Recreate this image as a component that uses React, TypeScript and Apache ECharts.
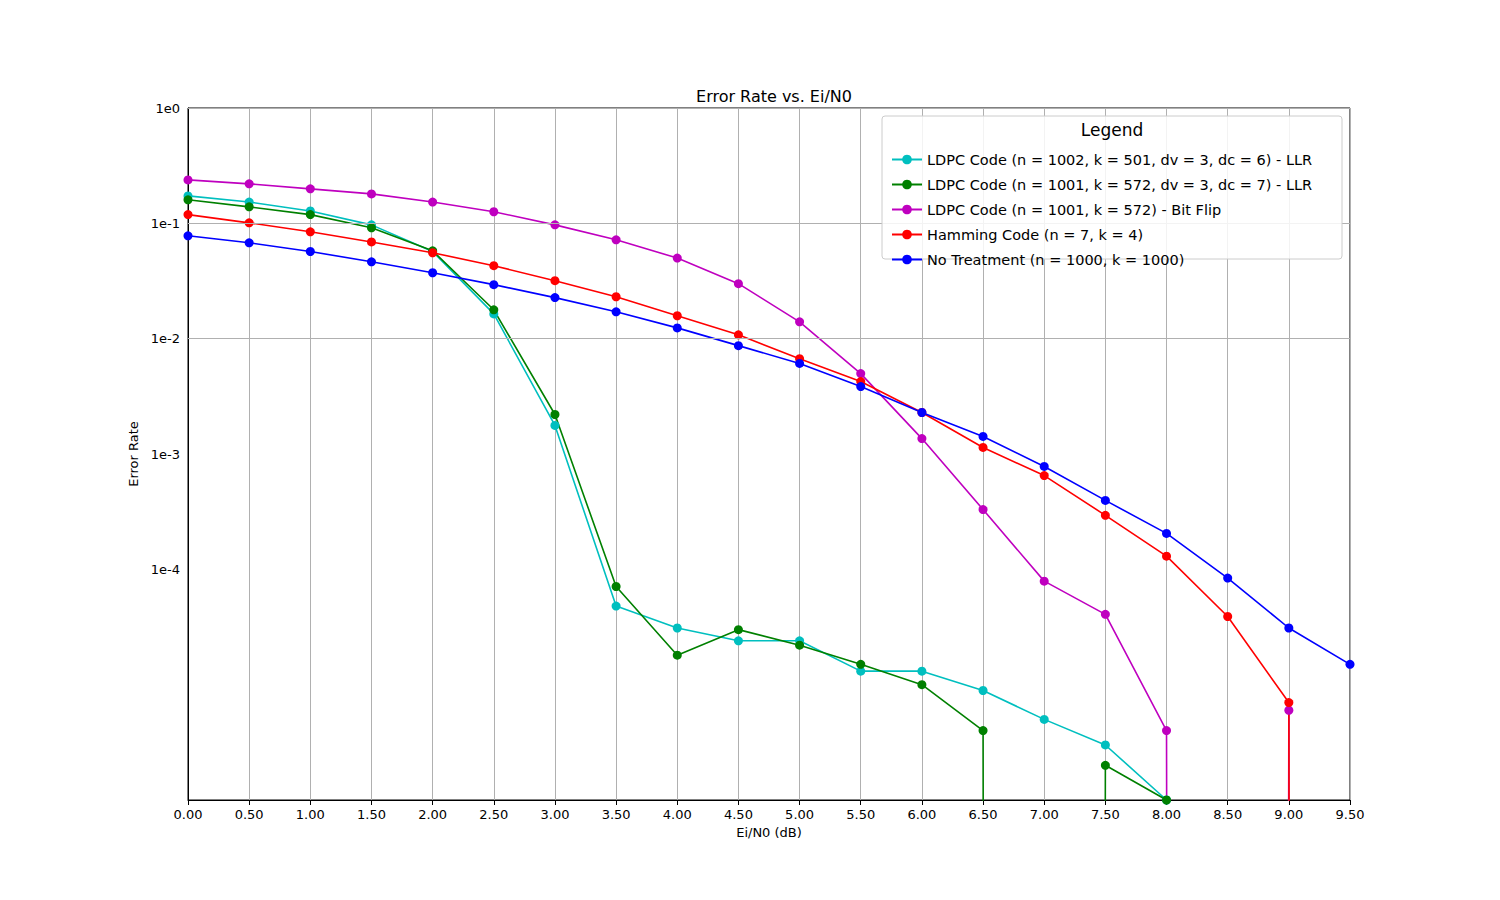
import { useEffect, useRef } from "react";
import * as echarts from "echarts";

const ebn0 = [0, 0.5, 1, 1.5, 2, 2.5, 3, 3.5, 4, 4.5, 5, 5.5, 6, 6.5, 7, 7.5, 8, 8.5, 9, 9.5];

// 0 = zero errors (drawn as a drop to the bottom like matplotlib)
const ldpcLlr1002 = [0.173, 0.153, 0.128, 0.097, 0.057, 0.0164, 0.00177, 4.8e-5, 3.1e-5, 2.4e-5, 2.4e-5, 1.31e-5, 1.31e-5, 8.9e-6, 5.0e-6, 3.0e-6, 1e-6];
const ldpcLlr1001 = [0.16, 0.139, 0.119, 0.0915, 0.0578, 0.0178, 0.0022, 7.1e-5, 1.8e-5, 3.0e-5, 2.2e-5, 1.5e-5, 1.0e-5, 4.0e-6, 0, 2.0e-6, 1e-6];
const ldpcBitFlip = [0.238, 0.22, 0.199, 0.18, 0.153, 0.126, 0.097, 0.072, 0.05, 0.03, 0.014, 0.00498, 0.00136, 3.3e-4, 7.9e-5, 4.07e-5, 4.0e-6, 0, 6.0e-6];
const hamming = [0.119, 0.101, 0.0844, 0.069, 0.0556, 0.0429, 0.0318, 0.0231, 0.0158, 0.0108, 0.0067, 0.00425, 0.00229, 0.00114, 6.5e-4, 2.94e-4, 1.3e-4, 3.9e-5, 7.0e-6, 0];
const noTreatment = [0.078, 0.0678, 0.057, 0.0464, 0.0373, 0.0294, 0.0227, 0.0171, 0.0124, 0.0087, 0.0061, 0.00384, 0.00229, 0.00142, 7.8e-4, 3.96e-4, 2.05e-4, 8.4e-5, 3.1e-5, 1.5e-5];

const seriesDefs = [
  { name: "LDPC Code (n = 1002, k = 501, dv = 3, dc = 6) - LLR", color: "#00bfbf", values: ldpcLlr1002 },
  { name: "LDPC Code (n = 1001, k = 572, dv = 3, dc = 7) - LLR", color: "#008000", values: ldpcLlr1001 },
  { name: "LDPC Code (n = 1001, k = 572) - Bit Flip", color: "#bf00bf", values: ldpcBitFlip },
  { name: "Hamming Code (n = 7, k = 4)", color: "#ff0000", values: hamming },
  { name: "No Treatment (n = 1000, k = 1000)", color: "#0000ff", values: noTreatment }
];

const gridDecades = [1, 0.1, 0.01, 0.001, 0.0001];

export default function App() {
  const chartRef = useRef<HTMLDivElement>(null);

  useEffect(() => {
    if (!chartRef.current) return;
    const chart = echarts.init(chartRef.current, null, { renderer: "svg" });
    const font = "DejaVu Sans";

    const series: any[] = seriesDefs.map((s, si) => ({
      name: s.name,
      type: "line",
      symbol: "circle",
      symbolSize: 9,
      color: s.color,
      lineStyle: { width: 1.6, color: s.color },
      clip: true,
      data: s.values.map((v, i) =>
        v === 0 ? { value: [ebn0[i], 1e-300], symbolSize: 0 } : { value: [ebn0[i], v] }
      ),
      markLine:
        si === 0
          ? {
              silent: true,
              symbol: "none",
              label: { show: false },
              lineStyle: { color: "#b0b0b0", type: "solid", width: 1 },
              data: gridDecades.map(d => ({ yAxis: d }))
            }
          : undefined,
      z: 3
    }));

    chart.setOption({
      animation: false,
      textStyle: { fontFamily: font },
      title: {
        text: "Error Rate vs. Ei/N0",
        left: 769,
        top: 83,
        textAlign: "center",
        textStyle: { fontSize: 16, fontWeight: "normal", color: "#000", fontFamily: font }
      },
      grid: { left: 188, right: 150, top: 108, bottom: 100 },
      xAxis: {
        type: "value",
        min: 0,
        max: 9.5,
        interval: 0.5,
        name: "Ei/N0 (dB)",
        nameLocation: "middle",
        nameGap: 22,
        nameTextStyle: { fontSize: 13, color: "#000" },
        axisLine: { onZero: false, lineStyle: { color: "#000" } },
        axisTick: { show: true, lineStyle: { color: "#000" } },
        axisLabel: { color: "#000", fontSize: 13, formatter: (v: number) => v.toFixed(2) },
        splitLine: { show: true, lineStyle: { color: "#b0b0b0" } }
      },
      yAxis: {
        type: "log",
        logBase: 10,
        min: 1e-6,
        max: 1,
        name: "Error Rate",
        nameLocation: "middle",
        nameGap: 48,
        nameTextStyle: { fontSize: 13, color: "#000" },
        axisLine: { lineStyle: { color: "#000" } },
        axisTick: { show: false },
        axisLabel: {
          color: "#000",
          fontSize: 13,
          formatter: (v: number) => {
            const e = Math.round(Math.log10(v));
            return e >= -4 ? `1e${e}` : "";
          }
        },
        splitLine: { show: false }
      },
      legend: {
        orient: "vertical",
        left: 886,
        top: 147,
        itemWidth: 30,
        itemHeight: 12,
        itemGap: 10,
        textStyle: { fontSize: 14.5, color: "#000", fontFamily: font },
        data: seriesDefs.map(s => s.name),
        z: 20
      },
      graphic: [
        {
          type: "rect",
          z: 15,
          shape: { x: 882, y: 116, width: 460, height: 143, r: 3 },
          style: { fill: "rgba(255,255,255,0.85)", stroke: "#cccccc", lineWidth: 1 }
        },
        {
          type: "text",
          z: 16,
          x: 1112,
          y: 121,
          style: { text: "Legend", fontSize: 17, fill: "#000", textAlign: "center", fontFamily: font }
        },
        {
          type: "rect",
          z: 0,
          shape: { x: 188, y: 108, width: 1162, height: 692 },
          style: { fill: "none", stroke: "#000", lineWidth: 1 }
        }
      ],
      series
    });

    return () => chart.dispose();
  }, []);

  return <div ref={chartRef} style={{ width: 1500, height: 900, margin: -8 }} />;
}
